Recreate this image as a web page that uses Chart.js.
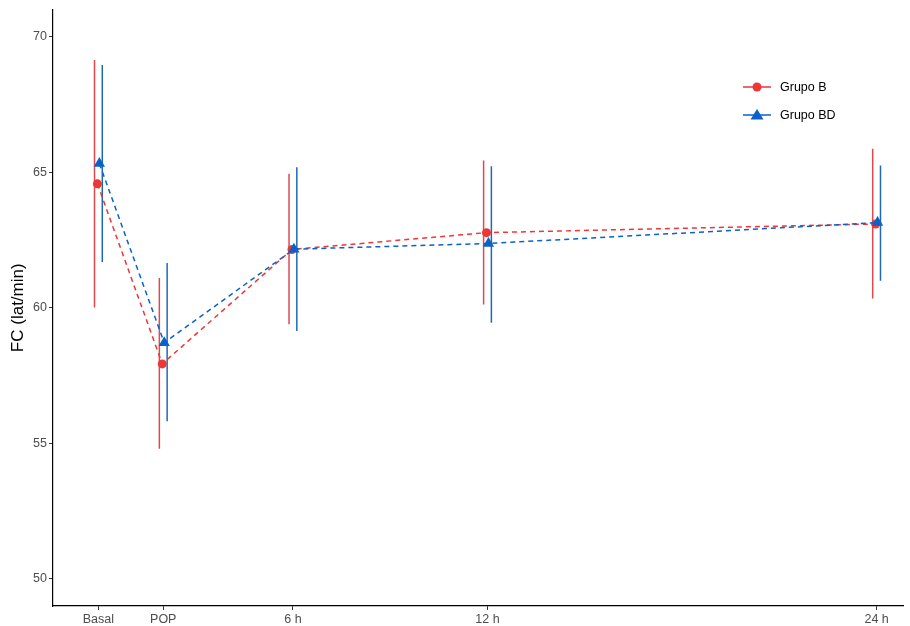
<!DOCTYPE html>
<html>
<head>
<meta charset="utf-8">
<script src="https://cdn.jsdelivr.net/npm/chart.js@4"></script>
<style>
html,body{margin:0;padding:0;background:#fff;}
#wrap{width:910px;height:626px;position:relative;}
</style>
</head>
<body>
<div id="wrap"><canvas id="c" width="910" height="626"></canvas></div>
<script>
const times = [0, 2, 6, 12, 24];
const tickLabels = ['Basal', 'POP', '6 h', '12 h', '24 h'];
const seriesNames = ['Grupo B', 'Grupo BD'];
const grupoB = [64.57, 57.93, 62.15, 62.77, 63.09];
const grupoBLow = [60.01, 54.80, 59.39, 60.12, 60.34];
const grupoBHigh = [69.14, 61.10, 64.94, 65.43, 65.86];
const grupoBD = [65.32, 58.71, 62.16, 62.37, 63.14];
const grupoBDLow = [61.69, 55.81, 59.14, 59.45, 61.00];
const grupoBDHigh = [68.95, 61.65, 65.18, 65.22, 65.25];

const redPt = '#EE3636', redBar = '#E0484C';
const bluePt = '#0A62C8', blueBar = '#1E69B4';
const FONT = 'Arial, "Liberation Sans", sans-serif';

function pts(vals, dx) { return times.map((t, i) => ({x: t + dx, y: vals[i]})); }
function bars(lo, hi, dx) {
  const out = [];
  times.forEach((t, i) => { out.push({x: t + dx, y: lo[i]}); out.push({x: t + dx, y: hi[i]}); out.push({x: t + dx, y: null}); });
  return out;
}

const legendPlugin = {
  id: 'ggLegend',
  afterDraw(chart) {
    const ctx = chart.ctx;
    const items = [
      {name: seriesNames[0], color: redPt, style: 'circle', y: 87},
      {name: seriesNames[1], color: bluePt, style: 'triangle', y: 115}
    ];
    ctx.save();
    items.forEach(it => {
      ctx.strokeStyle = it.color; ctx.lineWidth = 1.5; ctx.setLineDash([]);
      ctx.beginPath(); ctx.moveTo(743, it.y); ctx.lineTo(771, it.y); ctx.stroke();
      ctx.fillStyle = it.color;
      ctx.beginPath();
      if (it.style === 'circle') { ctx.arc(757, it.y, 4.5, 0, Math.PI * 2); }
      else { ctx.moveTo(757, it.y - 6); ctx.lineTo(763.5, it.y + 4.5); ctx.lineTo(750.5, it.y + 4.5); ctx.closePath(); }
      ctx.fill();
      ctx.fillStyle = '#000'; ctx.font = '12.5px ' + FONT; ctx.textBaseline = 'middle'; ctx.textAlign = 'left';
      ctx.fillText(it.name, 780, it.y + 1);
    });
    ctx.restore();
  }
};

new Chart(document.getElementById('c'), {
  type: 'scatter',
  data: {
    datasets: [
      {label: seriesNames[1], data: pts(grupoBD, 0.03), showLine: true, borderColor: bluePt, backgroundColor: bluePt,
       borderDash: [5, 4], borderWidth: 1.5, pointStyle: 'triangle', pointRadius: 6.5, pointHoverRadius: 6.5, pointBorderWidth: 0},
      {label: seriesNames[0], data: pts(grupoB, -0.03), showLine: true, borderColor: redPt, backgroundColor: redPt,
       borderDash: [5, 4], borderWidth: 1.5, pointStyle: 'circle', pointRadius: 4.5, pointHoverRadius: 4.5, pointBorderWidth: 0},
      {label: 'eb BD', data: bars(grupoBDLow, grupoBDHigh, 0.12), showLine: true, spanGaps: false, borderColor: blueBar,
       borderWidth: 1.5, pointRadius: 0, pointHoverRadius: 0},
      {label: 'eb B', data: bars(grupoBLow, grupoBHigh, -0.12), showLine: true, spanGaps: false, borderColor: redBar,
       borderWidth: 1.5, pointRadius: 0, pointHoverRadius: 0}
    ]
  },
  options: {
    responsive: false, animation: false,
    layout: {padding: {top: 2, right: 0, left: 0, bottom: 0}},
    plugins: {legend: {display: false}, tooltip: {enabled: false}},
    scales: {
      x: {
        type: 'linear', min: -1.40, max: 24.83,
        afterBuildTicks(s) { s.ticks = times.map(v => ({value: v})); },
        afterFit(s) { s.height = 20; },
        ticks: {autoSkip: false, maxRotation: 0, padding: 2, color: '#4D4D4D', font: {size: 12.5, family: FONT},
                callback(v) { const i = times.indexOf(v); return i >= 0 ? tickLabels[i] : ''; }},
        grid: {display: true, drawOnChartArea: false, drawTicks: true, tickLength: 4, color: '#333'},
        border: {display: true, color: '#000', width: 1.2}
      },
      y: {
        min: 49, max: 71.0,
        afterBuildTicks(s) { s.ticks = [50, 55, 60, 65, 70].map(v => ({value: v})); },
        afterFit(s) { s.width = 53; },
        title: {display: true, text: 'FC (lat/min)', color: '#000', font: {size: 17, family: FONT}, padding: {top: 8, bottom: 4}},
        ticks: {color: '#4D4D4D', font: {size: 12.5, family: FONT}, padding: 2},
        grid: {display: true, drawOnChartArea: false, drawTicks: true, tickLength: 4, color: '#333'},
        border: {display: true, color: '#000', width: 1.2}
      }
    }
  },
  plugins: [legendPlugin]
});
</script>
</body>
</html>
